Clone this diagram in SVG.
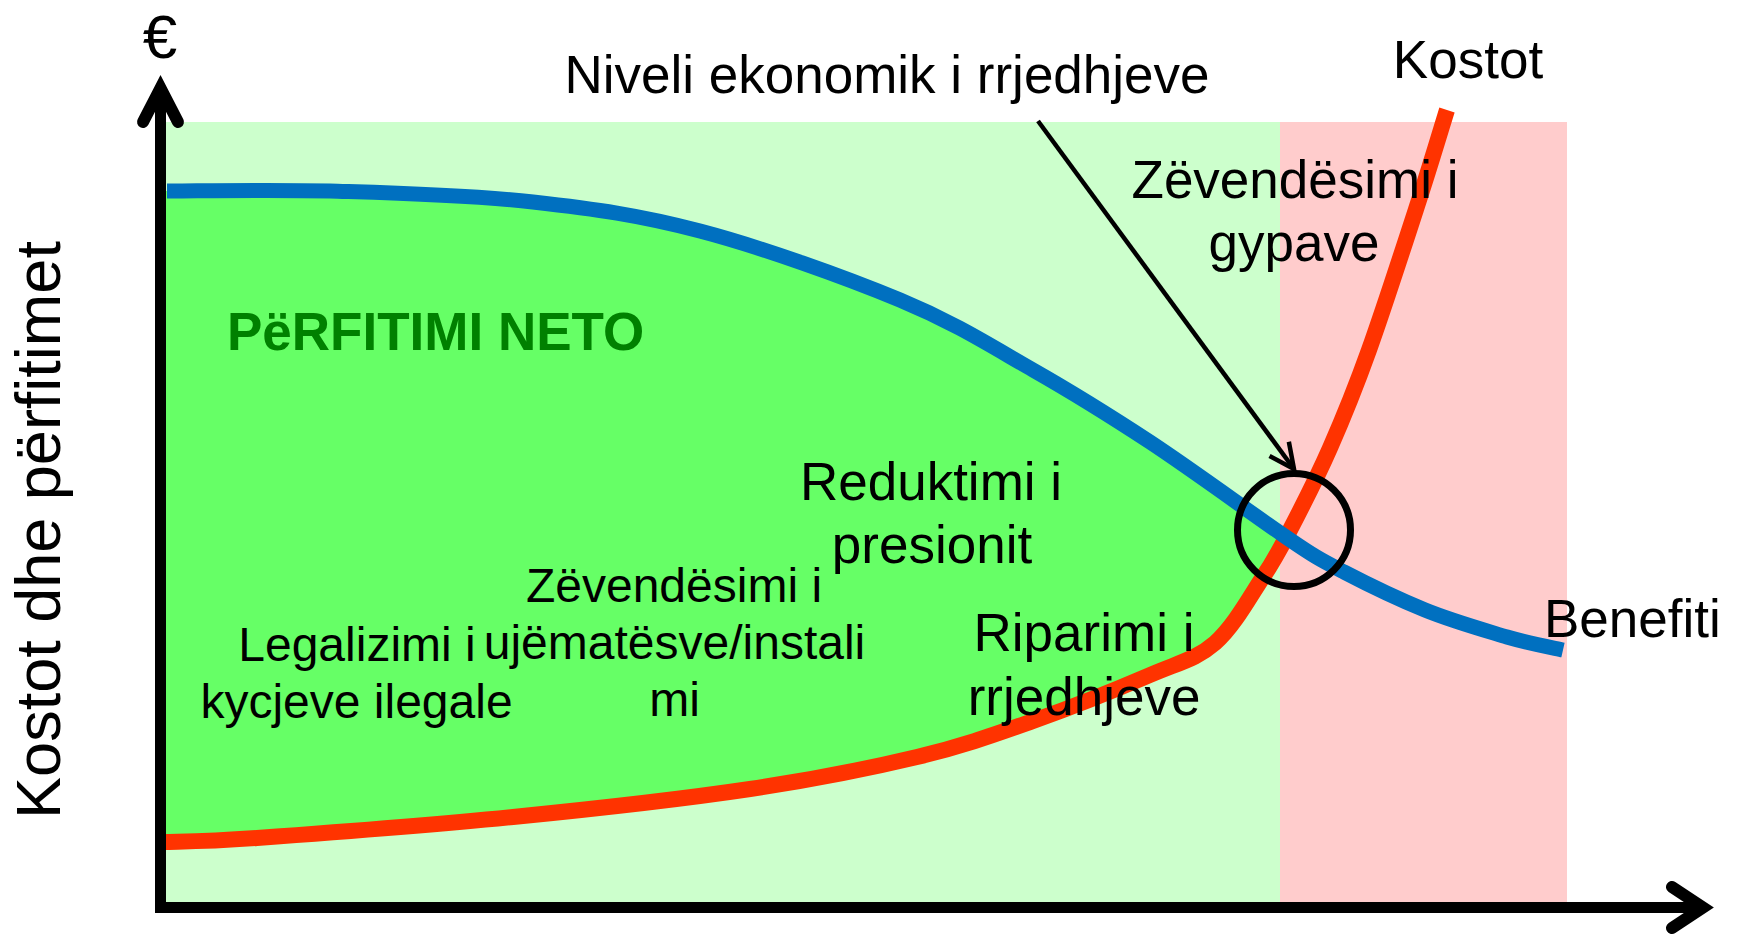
<svg xmlns="http://www.w3.org/2000/svg" width="1738" height="935" viewBox="0 0 1738 935">
<defs>
<style>
.lbl{font-family:"Liberation Sans",Arial,sans-serif;font-size:53px;fill:#000;text-anchor:middle}
.sm{font-size:48px}
.axis{fill:none;stroke:#000;stroke-width:11}
.head{fill:none;stroke:#000;stroke-width:12;stroke-linecap:round;stroke-linejoin:miter;stroke-miterlimit:10}
</style>
<marker id="openArrow" viewBox="0 0 30 30" refX="27" refY="15" markerWidth="30" markerHeight="30" markerUnits="userSpaceOnUse" orient="auto">
<path d="M2,3 L27,15 L2,27" fill="none" stroke="#000" stroke-width="4.5"/>
</marker>
</defs>
<rect width="1738" height="935" fill="#fff"/>
<g id="zones">
<rect x="166" y="122" width="1114" height="783" fill="#CCFFCC"/>
<rect x="1280" y="122" width="287" height="783" fill="#FFCCCC"/>
</g>
<g id="net-benefit-area">
<path fill="#66FF66" d="M163,191 L167,191 C194,191 269,189.5 330,191 C391,193 471,195 533,202 C595,209 639,215 700,231 C761,247 844.5,277 900,300 C955.5,323 991,346 1033,370 C1074.7,393.7 1108,414.5 1150,442 C1191.7,469.5 1251,513 1283,535 L1263,577 C1250.5,595.8 1233.8,626.7 1215,643 C1196.2,659.3 1180.3,662 1150,675 C1119.7,688 1071.8,707.3 1033,721 C994.2,734.7 964.2,745.7 917,757 C869.8,768.3 817.3,779 750,789 C682.7,799 595.2,808.8 513,817 C430.8,825.2 315.3,833.8 257,838 C198.7,842.2 178.7,841.3 163,842 Z"/>
</g>
<g id="curve-kostot">
<path fill="none" stroke="#FF3300" stroke-width="16" d="M163,842 C178.7,841.3 198.7,842.2 257,838 C315.3,833.8 430.8,825.2 513,817 C595.2,808.8 682.7,799 750,789 C817.3,779 869.8,768.3 917,757 C964.2,745.7 994.2,734.7 1033,721 C1071.8,707.3 1119.7,688 1150,675 C1180.3,662 1196.2,659.3 1215,643 C1233.8,626.7 1250.5,595.8 1263,577 C1275.5,558.2 1278.8,551.5 1290,530 C1301.2,508.5 1316.8,478 1330,448 C1343.2,418 1354.2,391.3 1369,350 C1383.8,308.7 1406,240 1419,200 C1432,160 1442.3,125 1447,110"/>
</g>
<g id="curve-benefiti">
<path fill="none" stroke="#0070C0" stroke-width="15" d="M167,191 C194,191 269,189.5 330,191 C391,193 471,195 533,202 C595,209 639,215 700,231 C761,247 844.5,277 900,300 C955.5,323 991,346 1033,370 C1074.7,393.7 1108,414.5 1150,442 C1191.7,469.5 1251,513 1283,535 C1315,557 1320,559.5 1344,572 C1368,584.5 1398,599 1425,610 C1452,621 1484,630 1507,637 C1530,643.7 1554,648 1563,650"/>
</g>
<g id="optimum-circle">
<circle cx="1294" cy="530" r="56.5" fill="none" stroke="#000" stroke-width="7"/>
</g>
<g id="connectors">
<line x1="1038" y1="121" x2="1294" y2="469" stroke="#000" stroke-width="4.5" marker-end="url(#openArrow)"/>
</g>
<g id="axes">
<line class="axis" x1="160.5" y1="88" x2="160.5" y2="913"/>
<line class="axis" x1="155" y1="907.5" x2="1703" y2="907.5"/>
<path class="head" d="M143,122 L160.5,88 L178,122"/>
<path class="head" d="M1672,887 L1703,907.5 L1672,928"/>
</g>
<g id="labels">
<text class="lbl" x="160" y="58" style="font-size:62px">€</text>
<text class="lbl" transform="translate(60,530) rotate(-90)" style="font-size:63px">Kostot dhe përfitimet</text>
<text class="lbl" x="887" y="93">Niveli ekonomik i rrjedhjeve</text>
<text class="lbl" x="1468" y="78">Kostot</text>
<text class="lbl" x="1295" y="198">Zëvendësimi i</text>
<text class="lbl" x="1294" y="261">gypave</text>
<text class="lbl" x="227" y="350" style="text-anchor:start;font-weight:bold;fill:#008000">PëRFITIMI NETO</text>
<text class="lbl" x="931" y="500">Reduktimi i</text>
<text class="lbl" x="932" y="563">presionit</text>
<text class="lbl" x="1084" y="651">Riparimi i</text>
<text class="lbl" x="1084" y="715">rrjedhjeve</text>
<text class="lbl" x="1544" y="637" style="text-anchor:start">Benefiti</text>
<text class="lbl sm" x="674" y="602">Zëvendësimi i</text>
<text class="lbl sm" x="674.5" y="659">ujëmatësve/instali</text>
<text class="lbl sm" x="674.5" y="716">mi</text>
<text class="lbl sm" x="357" y="661">Legalizimi i</text>
<text class="lbl sm" x="356.5" y="718">kycjeve ilegale</text>
</g>
</svg>
